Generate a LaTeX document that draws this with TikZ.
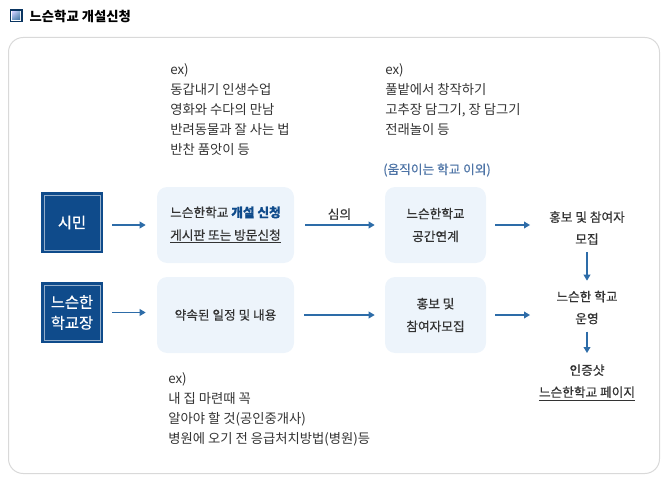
\documentclass[tikz,border=0pt]{standalone}
\usepackage{fontspec}
\setmainfont{Noto Sans CJK KR}
\newfontfamily\medium{Noto Sans CJK KR}[FakeBold=0.5]
\usetikzlibrary{arrows.meta,positioning,shadings}
\definecolor{navy}{HTML}{0F4B8B}
\definecolor{flowblue}{HTML}{2D6CA8}
\definecolor{pale}{HTML}{EDF4FB}
\definecolor{note}{HTML}{4E74A6}
\definecolor{ink}{HTML}{333333}

\begin{document}
\begin{tikzpicture}[x=0.75pt,y=-0.75pt,
 every node/.style={text=ink},
 role/.style={fill=navy,minimum width=46.5pt,minimum height=45.75pt,inner sep=0pt,align=center,
   text=white,font=\medium\fontsize{11.5}{15.5}\selectfont,
   path picture={\draw[white!55!navy,line width=0.6pt]
     ([shift={(2.2pt,2.2pt)}]path picture bounding box.south west) rectangle
     ([shift={(-2.2pt,-2.2pt)}]path picture bounding box.north east);}},
 panel/.style={fill=pale,rounded corners=7.5pt,minimum height=57pt,align=center,
   font=\medium\fontsize{9.5}{17}\selectfont},
 stage/.style={align=center,minimum width=75pt,font=\medium\fontsize{9.5}{16.5}\selectfont},
 flow/.style={draw=flowblue,line width=1pt,-{Triangle[length=4.5pt,width=5pt]},
   shorten <=7.5pt,shorten >=7.5pt},
 exlist/.style={anchor=north west,align=left,inner sep=0pt,font=\fontsize{10}{15}\selectfont}]
\useasboundingbox (0,0) rectangle (668,485);

% title
\fill[navy!70!black] (9.5,9.5) rectangle (22.5,22.5);
\fill[white] (11,11) rectangle (21,21);
\shade[upper left=blue!20!white,upper right=flowblue!60!white,lower left=flowblue!70!white,lower right=navy!80!white]
  (12,12) rectangle (20,20);
\node[anchor=west,font=\bfseries\fontsize{10}{12}\selectfont,text=black] (title) at (25,16.5) {느슨학교 개설신청};
\draw[gray!30,line width=0.75pt,rounded corners=11pt] (8.5,37.5) rectangle (659.5,473.5);

% who applies
\node[role] (citizen) at (72,222.5) {시민};
\node[role] (head) at (72,312.5) {느슨한\\학교장};

% steps
\node[panel,minimum width=102.75pt] (apply) at (225.5,225)
  {느슨한학교 {\bfseries\color{navy}개설 신청}\\\underline{게시판 또는 방문신청}};
\node[panel,minimum width=102.75pt] (plan) at (225.5,315) {약속된 일정 및 내용};
\node[panel,minimum width=75.75pt] (link) at (435.5,225) {느슨한학교\\공간연계};
\node[panel,minimum width=75.75pt] (recruit) at (435.5,315) {홍보 및\\참여자모집};
\node[font=\medium\fontsize{9.5}{11}\selectfont,text=note] (outside) at (437,170) {(움직이는 학교 이외)};

\node[stage] (promo) at (587,228) {홍보 및 참여자\\모집};
\node[stage] (run) at (587,307.5) {느슨한 학교\\운영};
\node[stage] (proof) at (587,382.5) {인증샷\\\underline{느슨한학교 페이지}};

% examples
\node[exlist] (exA) at (170,63) {ex)\\동갑내기 인생수업\\영화와 수다의 만남\\반려동물과 잘 사는 법\\반찬 품앗이 등};
\node[exlist] (exB) at (385,63) {ex)\\풀밭에서 창작하기\\고추장 담그기, 장 담그기\\전래놀이 등};
\node[exlist] (exC) at (168,372.5) {ex)\\내 집 마련때 꼭\\알아야 할 것(공인중개사)\\병원에 오기 전 응급처치방법(병원)등};

% arrows
\draw[flow,shorten <=6.75pt,shorten >=8.25pt] (citizen.east |- apply.west) -- (apply.west);
\draw[flow,shorten <=6.75pt,shorten >=8.25pt] (head.east) -- (head.east -| plan.west);
\draw[flow,shorten <=8.25pt] (apply) -- node[above] (review) {\medium\fontsize{9.5}{11}\selectfont 심의} (link);
\draw[flow] (plan) -- (recruit);
\draw[flow,shorten <=6.75pt,shorten >=5pt] (link.east) -- (link.east -| promo.west);
\draw[flow,shorten <=6.75pt,shorten >=5pt] (recruit.east) -- (recruit.east -| run.west);
\draw[flow,shorten <=2pt,shorten >=4pt] (promo) -- (run);
\draw[flow,shorten <=2pt,shorten >=5pt] (run) -- (proof);
\end{tikzpicture}
\end{document}
